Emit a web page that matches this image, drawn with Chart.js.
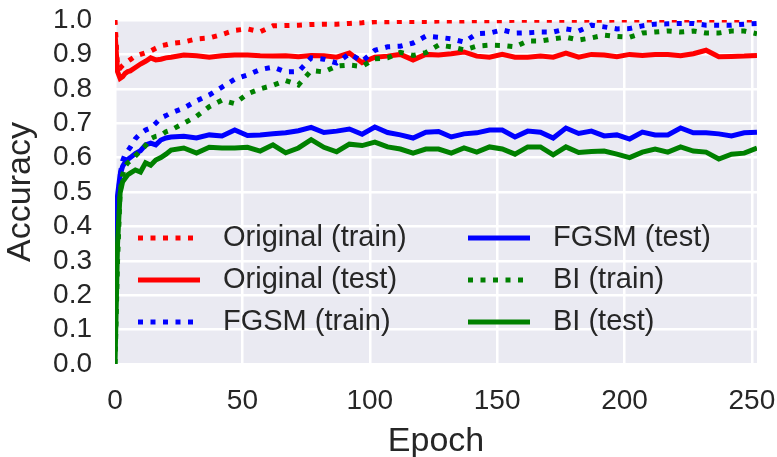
<!DOCTYPE html>
<html>
<head>
<meta charset="utf-8">
<script src="https://cdn.jsdelivr.net/npm/chart.js@4.4.1/dist/chart.umd.min.js"></script>
<style>
  html, body { margin: 0; padding: 0; background: #fff; }
</style>
</head>
<body>
<canvas id="chart" width="777" height="457"></canvas>
<script>
( function () {
    'use strict';

    var epochs = [0, 1, 2, 3, 4, 5, 6, 8, 10, 12, 14, 16, 18, 20, 22,
        27, 32, 37, 42, 47, 52, 57, 62, 67, 72, 77, 82, 87, 92, 97, 102, 107, 112, 117, 122,
        127, 132, 137, 142, 147, 152, 157, 162, 167, 172, 177, 182, 187, 192, 197, 202, 207, 212, 217, 222,
        227, 232, 237, 242, 247, 252];

    var origTrain = [1.0, 0.86, 0.86, 0.868, 0.875, 0.88, 0.885, 0.895, 0.90, 0.905, 0.91, 0.918, 0.925, 0.928, 0.932,
        0.936, 0.945, 0.948, 0.958, 0.97, 0.974, 0.966, 0.983, 0.984, 0.985, 0.987, 0.988, 0.988, 0.99, 0.992, 0.995, 0.995, 0.996, 0.996, 0.996,
        0.997, 0.997, 0.997, 0.998, 0.998, 0.998, 0.999, 0.999, 0.999, 0.999, 0.999, 0.999, 1.0, 0.999, 1.0, 1.0, 1.0, 1.0, 1.0, 1.0,
        1.0, 1.0, 1.0, 1.0, 1.0, 1.0];

    var origTest = [0.965, 0.85, 0.83, 0.835, 0.845, 0.85, 0.852, 0.862, 0.872, 0.88, 0.89, 0.884, 0.886, 0.89, 0.892,
        0.898, 0.896, 0.892, 0.896, 0.898, 0.898, 0.896, 0.895, 0.896, 0.893, 0.897, 0.896, 0.892, 0.904, 0.876, 0.892, 0.895, 0.90, 0.884, 0.90,
        0.898, 0.902, 0.907, 0.895, 0.892, 0.90, 0.892, 0.892, 0.895, 0.892, 0.904, 0.892, 0.90, 0.898, 0.893, 0.90, 0.897, 0.90, 0.90, 0.896,
        0.902, 0.912, 0.893, 0.894, 0.895, 0.897];

    var fgsmTrain = [0.30, 0.45, 0.55, 0.59, 0.61, 0.62, 0.63, 0.655, 0.67, 0.68, 0.686, 0.70, 0.715, 0.722, 0.73,
        0.744, 0.765, 0.782, 0.805, 0.828, 0.84, 0.856, 0.863, 0.849, 0.85, 0.89, 0.886, 0.875, 0.902, 0.88, 0.912, 0.922, 0.924, 0.933, 0.953,
        0.95, 0.945, 0.936, 0.96, 0.962, 0.971, 0.962, 0.963, 0.965, 0.965, 0.974, 0.968, 0.985, 0.98, 0.974, 0.975, 0.983, 0.988, 0.989, 0.99,
        0.99, 0.985, 0.985, 0.985, 0.988, 0.99];

    var fgsmTest = [0.30, 0.49, 0.55, 0.575, 0.587, 0.595, 0.60, 0.612, 0.62, 0.637, 0.642, 0.637, 0.651, 0.657, 0.66,
        0.662, 0.657, 0.666, 0.663, 0.68, 0.664, 0.666, 0.669, 0.672, 0.678, 0.688, 0.673, 0.677, 0.683, 0.668, 0.689, 0.673, 0.666, 0.657, 0.674,
        0.676, 0.66, 0.669, 0.672, 0.68, 0.68, 0.66, 0.677, 0.674, 0.657, 0.686, 0.67, 0.677, 0.663, 0.666, 0.654, 0.674, 0.666, 0.666, 0.686,
        0.672, 0.672, 0.669, 0.663, 0.672, 0.674];

    var biTrain = [0.0, 0.30, 0.50, 0.55, 0.575, 0.585, 0.59, 0.605, 0.62, 0.635, 0.655, 0.662, 0.665, 0.675, 0.68,
        0.70, 0.72, 0.748, 0.767, 0.757, 0.785, 0.80, 0.81, 0.824, 0.811, 0.853, 0.849, 0.866, 0.869, 0.865, 0.887, 0.89, 0.906, 0.897, 0.905,
        0.927, 0.922, 0.913, 0.924, 0.927, 0.926, 0.922, 0.939, 0.939, 0.945, 0.95, 0.942, 0.948, 0.956, 0.952, 0.95, 0.962, 0.965, 0.968, 0.965,
        0.968, 0.962, 0.962, 0.968, 0.968, 0.96];

    var biTest = [0.0, 0.35, 0.497, 0.53, 0.54, 0.55, 0.555, 0.564, 0.558, 0.585, 0.578, 0.593, 0.60, 0.61, 0.622,
        0.628, 0.613, 0.63, 0.628, 0.628, 0.63, 0.619, 0.637, 0.614, 0.628, 0.652, 0.63, 0.617, 0.639, 0.635, 0.645, 0.631, 0.625, 0.613, 0.625,
        0.625, 0.613, 0.628, 0.616, 0.631, 0.625, 0.61, 0.631, 0.631, 0.608, 0.631, 0.615, 0.618, 0.619, 0.61, 0.60, 0.616, 0.625, 0.616, 0.631,
        0.619, 0.616, 0.596, 0.61, 0.613, 0.628];

    var xTicks = [0, 50, 100, 150, 200, 250];
    var yTicks = [0.0, 0.1, 0.2, 0.3, 0.4, 0.5, 0.6, 0.7, 0.8, 0.9, 1.0];

    var seriesLabels = ['Original (train)', 'Original (test)', 'FGSM (train)', 'FGSM (test)', 'BI (train)', 'BI (test)'];
    var seriesValues = [origTrain, origTest, fgsmTrain, fgsmTest, biTrain, biTest];
    var seriesColors = ['#ff0000', '#ff0000', '#0000ff', '#0000ff', '#008000', '#008000'];

    var FONT = "'Liberation Sans', Arial, sans-serif";
    var TEXT = '#262626';
    var DOTS = [5, 7.5];

    function points( values ) {
        return values.map( function ( v, i ) { return { x: epochs[ i ], y: v }; } );
    }

    var datasets = seriesLabels.map( function ( label, i ) {
        var dotted = label.indexOf( 'train' ) !== -1;
        return {
            label:          label,
            data:           points( seriesValues[ i ] ),
            borderColor:    seriesColors[ i ],
            borderWidth:    5,
            borderDash:     dotted ? DOTS : [],
            borderCapStyle: 'butt',
            pointRadius:    0,
            tension:        0,
            fill:           false,
            order:          seriesLabels.length - i,
        };
    } );

    /* ── plot background ───────────────────────────────────────────── */
    var background = {
        id: 'background',
        beforeDraw: function ( chart ) {
            var a = chart.chartArea, ctx = chart.ctx;
            ctx.save();
            ctx.fillStyle = '#eaeaf2';
            ctx.fillRect( a.left, a.top, a.right - a.left, a.bottom - a.top );
            ctx.restore();
        },
    };

    /* ── matplotlib-like legend, 2 columns filled top to bottom ───── */
    var legendBox = {
        id: 'legendBox',
        afterDraw: function ( chart, args, opts ) {
            var ctx = chart.ctx;
            ctx.save();
            ctx.font = opts.fontSize + 'px ' + FONT;
            ctx.textBaseline = 'middle';
            ctx.fillStyle = TEXT;
            chart.data.datasets.forEach( function ( ds, i ) {
                var col = Math.floor( i / 3 ), row = i % 3;
                var x = opts.colX[ col ], y = opts.rowY[ row ];
                ctx.beginPath();
                ctx.lineWidth = ds.borderWidth;
                ctx.strokeStyle = ds.borderColor;
                ctx.lineCap = 'butt';
                ctx.setLineDash( ds.borderDash );
                ctx.moveTo( x, y );
                ctx.lineTo( x + opts.lineLen, y );
                ctx.stroke();
                ctx.setLineDash( [] );
                ctx.fillText( ds.label, x + opts.lineLen + opts.gap, y );
            } );
            ctx.restore();
        },
    };

    new Chart( document.getElementById( 'chart' ), {
        type: 'line',
        data: { datasets: datasets },
        plugins: [ background, legendBox ],
        options: {
            responsive: false,
            animation:  false,
            layout: { padding: { top: 20, right: 20, left: 0, bottom: 0 } },
            plugins: {
                legend:  { display: false },
                tooltip: { enabled: false },
                legendBox: { colX: [ 138, 468 ], rowY: [ 238, 280, 322 ], lineLen: 62, gap: 23, fontSize: 29 },
            },
            scales: {
                x: {
                    type: 'linear',
                    min:  0,
                    max:  252,
                    afterFit: function ( s ) { s.height = 93; s.paddingLeft = 0; s.paddingRight = 0; },
                    afterBuildTicks: function ( s ) { s.ticks = xTicks.map( function ( v ) { return { value: v }; } ); },
                    ticks:  { color: TEXT, font: { family: FONT, size: 28 }, padding: 20, maxRotation: 0, autoSkip: false },
                    grid:   { color: '#ffffff', lineWidth: 2.5, drawTicks: false },
                    border: { display: false },
                    title:  { display: true, text: 'Epoch', color: TEXT, font: { family: FONT, size: 34 }, padding: { top: 0, bottom: -5 } },
                },
                y: {
                    min: 0,
                    max: 1,
                    afterFit: function ( s ) { s.width = 115; s.paddingTop = 0; s.paddingBottom = 0; },
                    afterBuildTicks: function ( s ) { s.ticks = yTicks.map( function ( v ) { return { value: v }; } ); },
                    ticks:  {
                        color: TEXT, font: { family: FONT, size: 28 }, padding: 23, autoSkip: false,
                        callback: function ( v ) { return v.toFixed( 1 ); },
                    },
                    grid:   { color: '#ffffff', lineWidth: 2.5, drawTicks: false },
                    border: { display: false },
                    title:  { display: true, text: 'Accuracy', color: TEXT, font: { family: FONT, size: 34 }, padding: 0 },
                },
            },
        },
    } );

} )();
</script>
</body>
</html>
